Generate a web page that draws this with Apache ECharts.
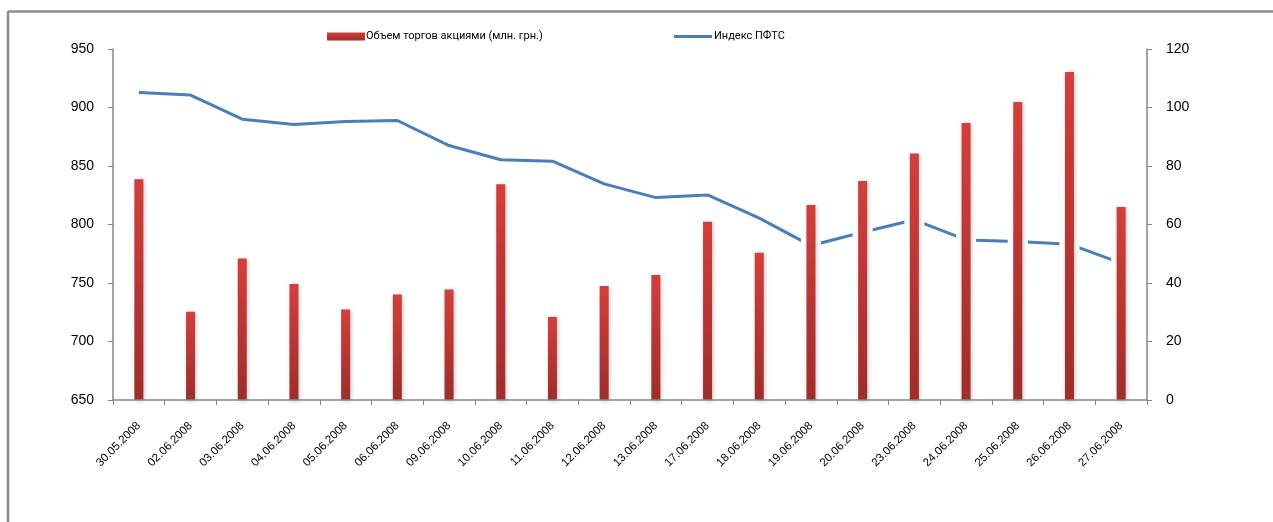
<!DOCTYPE html>
<html>
<head>
<meta charset="utf-8">
<script src="https://cdn.jsdelivr.net/npm/echarts@6/dist/echarts.min.js"></script>
<style>
html,body{margin:0;padding:0;background:#fff;}
#chart{width:1273px;height:522px;}
</style>
</head>
<body>
<div id="chart"></div>
<script>
const categories = ['30.05.2008','02.06.2008','03.06.2008','04.06.2008','05.06.2008','06.06.2008','09.06.2008','10.06.2008','11.06.2008','12.06.2008','13.06.2008','17.06.2008','18.06.2008','19.06.2008','20.06.2008','23.06.2008','24.06.2008','25.06.2008','26.06.2008','27.06.2008'];
const volumeValues = [75.5, 30.2, 48.4, 39.7, 30.9, 36.1, 37.8, 73.8, 28.4, 39.0, 42.7, 60.9, 50.3, 66.7, 74.9, 84.3, 94.7, 101.9, 112.1, 66.0];
const indexValues = [912.8, 910.6, 890.0, 885.5, 888.0, 888.9, 867.5, 855.3, 854.1, 834.7, 823.0, 825.3, 805.4, 782.0, 793.4, 804.0, 786.8, 785.4, 783.2, 767.0];
const volumeName = 'Объем торгов акциями (млн. грн.)';
const indexName = 'Индекс ПФТС';
const leftTicks = {min: 650, max: 950, interval: 50};
const rightTicks = {min: 0, max: 120, interval: 20};

const chart = echarts.init(document.getElementById('chart'), null, {renderer: 'canvas'});
const axisColor = '#868686';
const labelFont = 'Liberation Sans';

chart.setOption({
  animation: false,
  backgroundColor: '#fff',
  graphic: [
    {type: 'line', shape: {x1: 8, y1: 11.5, x2: 1273, y2: 11.5}, style: {stroke: '#8c8c8c', lineWidth: 2.5}, z: 100},
    {type: 'line', shape: {x1: 8, y1: 11, x2: 8, y2: 522}, style: {stroke: '#8c8c8c', lineWidth: 2.5}, z: 100}
  ],
  legend: [
    {
      data: [volumeName], left: 322, top: 26, itemWidth: 38, itemHeight: 8, itemGap: 4,
      textStyle: {fontFamily: 'Roboto', fontSize: 11, color: '#000', padding: [0,0,0,-4]},
      icon: 'rect'
    },
    {
      data: [indexName], left: 669, top: 26, itemWidth: 38, itemHeight: 3,
      icon: 'rect',
      textStyle: {fontFamily: 'Roboto', fontSize: 11, color: '#000', padding: [0,0,0,-3]}
    }
  ],
  grid: {left: 113, right: 126, top: 49, bottom: 122, containLabel: false},
  xAxis: [
    {
      type: 'category', data: categories, z: 10,
      axisLine: {lineStyle: {color: axisColor, width: 1.5}},
      axisTick: {show: true, length: 5, lineStyle: {color: axisColor}},
      axisLabel: {rotate: 45, margin: 24, fontSize: 11.5, fontFamily: labelFont, color: '#000', interval: 0}
    },
    {
      type: 'category', data: categories, show: false
    }
  ],
  yAxis: [
    {
      type: 'value', min: leftTicks.min, max: leftTicks.max, interval: leftTicks.interval,
      position: 'left',
      axisLine: {show: true, lineStyle: {color: axisColor, width: 1.5}},
      axisTick: {show: true, length: 5, lineStyle: {color: axisColor}},
      splitLine: {show: false},
      axisLabel: {margin: 19, fontSize: 14, fontFamily: labelFont, color: '#000'}
    },
    {
      type: 'value', min: rightTicks.min, max: rightTicks.max, interval: rightTicks.interval,
      position: 'right',
      axisLine: {show: true, lineStyle: {color: axisColor, width: 1.5}},
      axisTick: {show: true, length: 5, lineStyle: {color: axisColor}},
      splitLine: {show: false},
      axisLabel: {margin: 19, fontSize: 14, fontFamily: labelFont, color: '#000'}
    }
  ],
  series: [
    {
      name: indexName, type: 'line', data: indexValues, xAxisIndex: 0, yAxisIndex: 0,
      symbol: 'none', showSymbol: false, z: 2,
      lineStyle: {color: '#4a7ebb', width: 3},
      itemStyle: {color: '#4a7ebb'}
    },
    {
      name: 'gap', type: 'bar', data: volumeValues, xAxisIndex: 1, yAxisIndex: 1,
      barWidth: 20, z: 3, silent: true,
      itemStyle: {color: '#ffffff'}
    },
    {
      name: volumeName, type: 'bar', data: volumeValues, xAxisIndex: 0, yAxisIndex: 1,
      barWidth: 9, z: 4,
      itemStyle: {
        color: new echarts.graphic.LinearGradient(0, 0, 0, 1, [
          {offset: 0, color: '#d23f3c'},
          {offset: 1, color: '#9c2e2b'}
        ]),
        shadowColor: 'rgba(0,0,0,0.25)', shadowBlur: 4, shadowOffsetX: 1, shadowOffsetY: 1
      }
    }
  ]
});
</script>
</body>
</html>
